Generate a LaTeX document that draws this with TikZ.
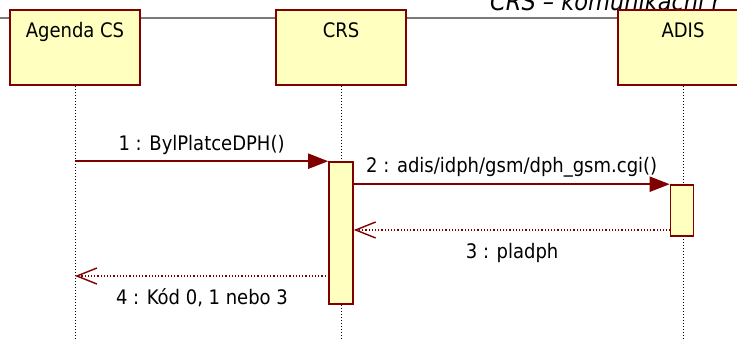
\documentclass[tikz,border=0pt]{standalone}
\usepackage{fontspec}
\setmainfont{DejaVu Sans Condensed}
\usepackage{tikz}
\usetikzlibrary{arrows.meta, positioning, calc}
\definecolor{umlred}{HTML}{800000}
\definecolor{umlyellow}{HTML}{FFFFC0}
\definecolor{framegray}{HTML}{7A7A7A}
\tikzset{
    object/.style={draw=umlred, fill=umlyellow, line width=2pt, minimum width=130pt, minimum height=75pt, inner sep=0pt}, % head of a lifeline
    activation/.style={draw=umlred, fill=umlyellow, line width=1.6pt, inner sep=0pt}, % execution bar
    lifeline/.style={dash pattern=on 1pt off 2pt, line width=1pt},
    call/.style={draw=umlred, line width=2pt, -{Triangle[length=20pt,width=15pt]}}, % synchronous message
    reply/.style={draw=umlred, line width=1.4pt, dash pattern=on 1.2pt off 2pt, -{Straight Barb[length=20pt,width=16pt,line width=1.4pt]}}, % return message
    msg/.style={font=\fontsize{20}{24}\selectfont, inner sep=0pt},
}

\begin{document}
\begin{tikzpicture}[x=1pt, y=-1pt]
    \useasboundingbox[fill=white] (0,0) rectangle (737,340);

    % frame
    \node[font=\fontsize{25}{28}\selectfont\itshape, anchor=base west, inner sep=0pt] (title) at (490,10) {CRS – komunikační r};
    \coordinate (framestart) at (0,18);
    \coordinate (frameend) at (617,18);
    \draw[framegray, line width=2pt] (framestart) -- (frameend);

    % objects
    \node[object, label={[msg, anchor=north, yshift=-13pt]north:Agenda CS}] (agenda) at (75,47.5) {};
    \node[object, label={[msg, anchor=north, yshift=-13pt]north:CRS}] (crs) at (341,47.5) {};
    \node[object, label={[msg, anchor=north, yshift=-13pt]north:ADIS}] (adis) at (683,47.5) {};

    % lifelines
    \foreach \obj in {agenda, crs, adis}
        \draw[lifeline] (\obj.south) -- (\obj.south |- 0,340);

    % activations
    \node[activation, minimum width=24pt, minimum height=142pt] (crsact) at (341,233) {};
    \node[activation, minimum width=23pt, minimum height=51pt] (adisact) at (682,210.5) {};

    % messages
    \coordinate (m1) at (agenda |- crsact.north);
    \coordinate (m2) at (crsact.east |- adisact.north);
    \coordinate (r3) at (670.5,230);
    \coordinate (r4) at (329,276);

    \draw[call] (m1) -- node[msg, above=6pt] {1 : BylPlatceDPH()} (crsact.north west);
    \draw[call] (m2) -- node[msg, above=6pt] {2 : adis/idph/gsm/dph\_gsm.cgi()} (adisact.north west);
    \draw[reply] (r3) -- node[msg, below=13pt] {3 : pladph} (r3 -| crsact.east);
    \draw[reply] (r4) -- node[msg, below=12pt] {4 : Kód 0, 1 nebo 3} (r4 -| agenda);
\end{tikzpicture}
\end{document}
